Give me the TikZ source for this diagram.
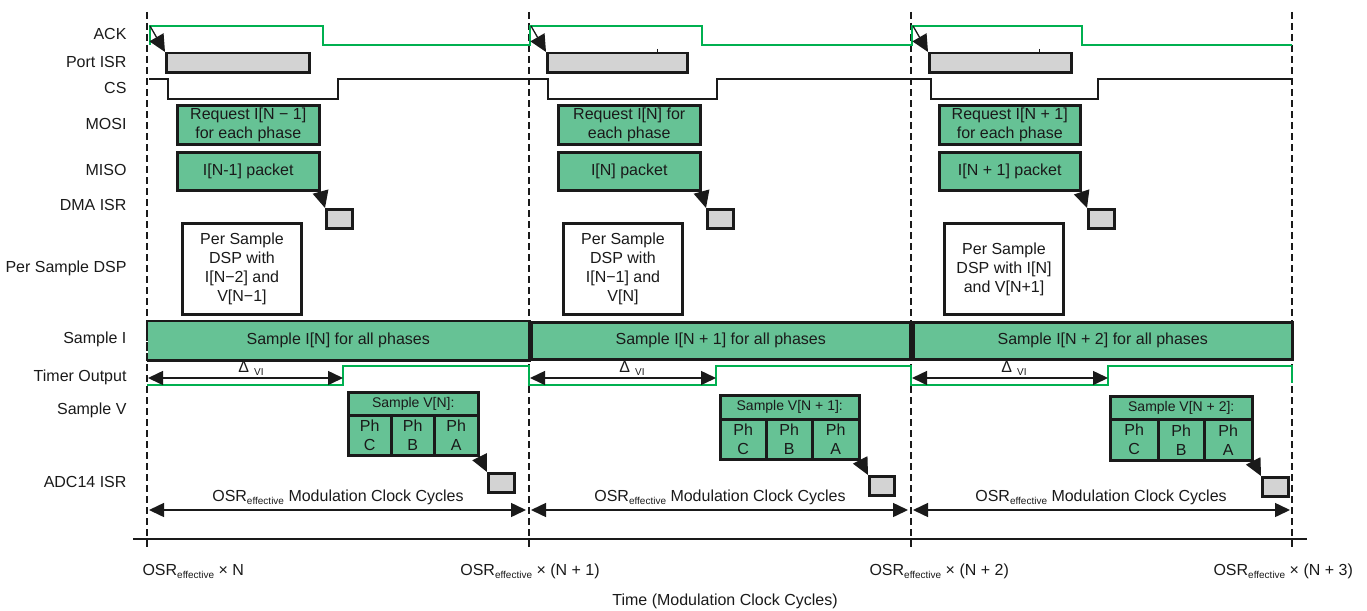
\documentclass[tikz,border=0pt]{standalone}
\usepackage{fontspec}
\setmainfont{Liberation Sans}
\usetikzlibrary{arrows.meta}

\definecolor{boxgreen}{HTML}{66C295}
\definecolor{siggreen}{HTML}{00B050}
\definecolor{isrgray}{HTML}{D3D3D3}
\definecolor{ink}{HTML}{1A1A1A}

\newcommand\txt{\fontsize{16}{19}\selectfont}
\newcommand\subtxt{\fontsize{10}{10}\selectfont}
\newcommand\osr{OSR\raisebox{-3pt}{\subtxt effective}}
\newcommand\dvi{Δ\hspace{5pt}\raisebox{-3pt}{\subtxt VI}}

\begin{document}
\begin{tikzpicture}[x=1pt,y=-1pt,
  every node/.style={font=\txt, text=ink},
  box/.style={draw=ink, anchor=north west, inner sep=0pt, align=center, line width=2.5pt},
  isrbox/.style={box, fill=isrgray},
  databox/.style={box, fill=boxgreen},
  headbox/.style={databox, font=\fontsize{14}{16}\selectfont},
  dspbox/.style={box, fill=white, line width=3pt},
  rowlabel/.style={anchor=east},
  marker/.style={draw=ink, line width=1.6pt, dash pattern=on 7pt off 4pt},
  acksig/.style={draw=siggreen, line width=2.4pt},
  cssig/.style={draw=ink, line width=2.4pt},
  edge line/.style={draw=ink, line width=2.5pt},
  evarrow/.style={draw=ink, line width=1.3pt, -{Triangle[length=17pt,width=16pt]}},
  dimarrow/.style={draw=ink, line width=1.5pt, {Triangle[length=15pt,width=14pt]}-{Triangle[length=15pt,width=14pt]}},
]
\useasboundingbox (0,0) rectangle (1367,610);

% ---------- period boundaries ----------
\coordinate (m0t) at (147,12);  \coordinate (m0b) at (147,548);
\coordinate (m1t) at (529,12);  \coordinate (m1b) at (529,548);
\coordinate (m2t) at (911,12);  \coordinate (m2b) at (911,548);
\coordinate (m3t) at (1292,12); \coordinate (m3b) at (1292,548);
\foreach \m in {m0,m1,m2,m3} \draw[marker] (\m t) -- (\m b);

% ---------- row labels ----------
\node[rowlabel] (lack)  at (130,34)  {ACK};
\node[rowlabel] (lpisr) at (130,62)  {Port ISR};
\node[rowlabel] (lcs)   at (130,88)  {CS};
\node[rowlabel] (lmosi) at (130,124) {MOSI};
\node[rowlabel] (lmiso) at (130,170) {MISO};
\node[rowlabel] (ldma)  at (130,205) {DMA ISR};
\node[rowlabel] (ldsp)  at (130,268) {Per Sample DSP};
\node[rowlabel] (lsi)   at (130,339) {Sample I};
\node[rowlabel] (ltim)  at (130,377) {Timer Output};
\node[rowlabel] (lsv)   at (130,410) {Sample V};
\node[rowlabel] (ladc)  at (130,482) {ADC14 ISR};

% ---------- ACK and CS waveforms ----------
\draw[acksig] (150,45) -- (150,26) -- (323,26) -- (323,45) -- (530,45) -- (530,26)
  -- (702,26) -- (702,45) -- (912,45) -- (912,26) -- (1082,26) -- (1082,45) -- (1292,45);
\draw[cssig] (149,79) -- (168,79) -- (168,99) -- (338,99) -- (338,79) -- (548,79)
  -- (548,99) -- (717,99) -- (717,79) -- (931,79) -- (931,99) -- (1098,99) -- (1098,79) -- (1292,79);

% ---------- Port ISR ----------
\node[isrbox, minimum width=143pt, minimum height=19pt] (pisrA) at (165,52) {};
\node[isrbox, minimum width=140pt, minimum height=19pt] (pisrB) at (546,52) {};
\node[isrbox, minimum width=142pt, minimum height=19pt] (pisrC) at (928,52) {};
\draw[ink, line width=0.8pt] (657,49) -- (657,52);
\draw[ink, line width=0.8pt] (1039,49) -- (1039,52);

\coordinate (ackA) at (150,26);
\coordinate (ackB) at (531,26);
\coordinate (ackC) at (913,26);
\draw[evarrow] (ackA) -- (pisrA.north west);
\draw[evarrow] (ackB) -- (pisrB.north west);
\draw[evarrow] (ackC) -- (pisrC.north west);

% ---------- MOSI / MISO ----------
\node[databox, minimum width=142pt, minimum height=39pt] (mosiA) at (176,104) {Request I[N − 1]\\for each phase};
\node[databox, minimum width=142pt, minimum height=39pt] (mosiB) at (557,104) {Request I[N] for\\each phase};
\node[databox, minimum width=141pt, minimum height=39pt] (mosiC) at (938,104) {Request I[N + 1]\\for each phase};

\node[databox, minimum width=142pt, minimum height=38pt] (misoA) at (176,151) {I[N-1] packet};
\node[databox, minimum width=142pt, minimum height=38pt] (misoB) at (557,151) {I[N] packet};
\node[databox, minimum width=141pt, minimum height=38pt] (misoC) at (938,151) {I[N + 1] packet};

% ---------- DMA ISR ----------
\node[isrbox, minimum width=26pt, minimum height=19pt] (dmaA) at (325,208) {};
\node[isrbox, minimum width=26pt, minimum height=19pt] (dmaB) at (706,208) {};
\node[isrbox, minimum width=26pt, minimum height=19pt] (dmaC) at (1087,208) {};
\draw[evarrow] (misoA.south east) -- (dmaA.north west);
\draw[evarrow] (misoB.south east) -- (dmaB.north west);
\draw[evarrow] (misoC.south east) -- (dmaC.north west);

% ---------- per sample DSP ----------
\node[dspbox, minimum width=119pt, minimum height=91pt] (dspA) at (181,222) {Per Sample\\DSP with\\I[N−2] and\\V[N−1]};
\node[dspbox, minimum width=119pt, minimum height=91pt] (dspB) at (562,222) {Per Sample\\DSP with\\I[N−1] and\\V[N]};
\node[dspbox, minimum width=119pt, minimum height=91pt] (dspC) at (943,222) {Per Sample\\DSP with I[N]\\and V[N+1]};

% ---------- Sample I ----------
\node[box, draw=none, fill=boxgreen, minimum width=380pt, minimum height=37pt] (siA) at (147,321) {Sample I[N] for all phases};
\draw[edge line] (siA.north west) -- (siA.north east) -- (siA.south east) -- (siA.south west);
\draw[edge line, dash pattern=on 7pt off 3pt] (siA.south west) -- (siA.north west);
\node[databox, minimum width=379pt, minimum height=37pt] (siB) at (530,321) {Sample I[N + 1] for all phases};
\node[databox, minimum width=379pt, minimum height=37pt] (siC) at (912,321) {Sample I[N + 2] for all phases};

% ---------- Timer output ----------
\draw[acksig] (147,385) -- (343,385) -- (343,366) -- (529,366) -- (529,385) -- (716,385)
  -- (716,366) -- (911,366) -- (911,385) -- (1108,385) -- (1108,366) -- (1292,366) -- (1292,383);

\coordinate (dA0) at (148,378); \coordinate (dA1) at (343,378);
\coordinate (dB0) at (530,378); \coordinate (dB1) at (716,378);
\coordinate (dC0) at (912,378); \coordinate (dC1) at (1108,378);
\draw[dimarrow] (dA0) -- (dA1);
\draw[dimarrow] (dB0) -- (dB1);
\draw[dimarrow] (dC0) -- (dC1);
\node (dlA) at (251,368) {\dvi};
\node (dlB) at (632,368) {\dvi};
\node (dlC) at (1014,368) {\dvi};

% ---------- Sample V ----------
\node[headbox, minimum width=130pt, minimum height=23pt] (svA) at (347,391) {Sample V[N]:};
\node[databox, minimum width=43pt, minimum height=40pt] (svA1) at (347,414) {Ph\\C};
\node[databox, minimum width=43pt, minimum height=40pt] (svA2) at (390,414) {Ph\\B};
\node[databox, minimum width=44pt, minimum height=40pt] (svA3) at (433,414) {Ph\\A};

\node[headbox, minimum width=139pt, minimum height=24pt] (svB) at (719,394) {Sample V[N + 1]:};
\node[databox, minimum width=46pt, minimum height=40pt] (svB1) at (719,418) {Ph\\C};
\node[databox, minimum width=46pt, minimum height=40pt] (svB2) at (765,418) {Ph\\B};
\node[databox, minimum width=47pt, minimum height=40pt] (svB3) at (811,418) {Ph\\A};

\node[headbox, minimum width=142pt, minimum height=23pt] (svC) at (1109,395) {Sample V[N + 2]:};
\node[databox, minimum width=48pt, minimum height=41pt] (svC1) at (1109,418) {Ph\\C};
\node[databox, minimum width=46pt, minimum height=41pt] (svC2) at (1157,418) {Ph\\B};
\node[databox, minimum width=48pt, minimum height=41pt] (svC3) at (1203,418) {Ph\\A};

% ---------- ADC14 ISR ----------
\node[isrbox, minimum width=26pt, minimum height=19pt] (adcA) at (487,472) {};
\node[isrbox, minimum width=25pt, minimum height=19pt] (adcB) at (868,475) {};
\node[isrbox, minimum width=26pt, minimum height=19pt] (adcC) at (1261,476) {};
\draw[evarrow] (svA3.south east) -- (adcA.north west);
\draw[evarrow] (svB3.south east) -- (adcB.north west);
\draw[evarrow] (svC3.south east) -- (adcC.north west);

% ---------- period spans ----------
\coordinate (pA0) at (149,510); \coordinate (pA1) at (526,510);
\coordinate (pB0) at (531,510); \coordinate (pB1) at (908,510);
\coordinate (pC0) at (913,510); \coordinate (pC1) at (1290,510);
\draw[dimarrow] (pA0) -- (pA1);
\draw[dimarrow] (pB0) -- (pB1);
\draw[dimarrow] (pC0) -- (pC1);
\node (plA) at (338,497) {\osr{} Modulation Clock Cycles};
\node (plB) at (720,497) {\osr{} Modulation Clock Cycles};
\node (plC) at (1101,497) {\osr{} Modulation Clock Cycles};

% ---------- time axis ----------
\coordinate (axL) at (133,539);
\coordinate (axR) at (1307,539);
\draw[ink, line width=1.8pt] (axL) -- (axR);
\node[anchor=west] (tA) at (139,571) {\osr{} × N};
\node (tB) at (530,571) {\osr{} × (N + 1)};
\node[anchor=west] (tC) at (866,571) {\osr{} × (N + 2)};
\node[anchor=west] (tD) at (1210,571) {\osr{} × (N + 3)};
\node (tlabel) at (725,601) {Time (Modulation Clock Cycles)};
\end{tikzpicture}
\end{document}
